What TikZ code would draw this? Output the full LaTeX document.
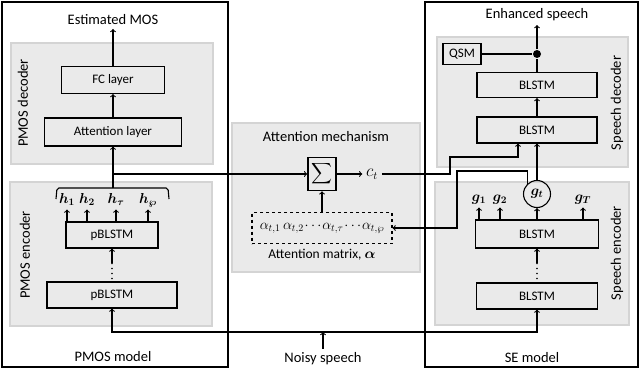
\documentclass[tikz,border=0pt]{standalone}
\usepackage{amsmath, amssymb}
\usepackage{fontspec}
\setmainfont{Carlito}
\usepackage{tikz}
\usetikzlibrary{shapes.geometric, arrows, positioning, calc}

\definecolor{panelfill}{RGB}{234,234,234}
\definecolor{paneledge}{RGB}{212,212,212}

\begin{document}
\begin{tikzpicture}[x=1pt, y=-1pt, >=to, line width=1.1pt,
    txt/.style={font=\fontsize{14.5}{17}\selectfont},
    layer/.style={draw, rectangle, minimum height=26pt, font=\fontsize{13}{15}\selectfont},
    panel/.style={fill=panelfill, draw=paneledge, line width=1.5pt},
    vec/.style={font=\fontsize{14.5}{17}\selectfont, text height=10pt, text depth=3pt, inner sep=2.5pt},
    dotgap/.style={inner sep=0pt, minimum width=4pt, minimum height=14pt},
    dotline/.style={line width=1.8pt, line cap=round, dash pattern=on 0pt off 5pt}]
    \useasboundingbox (0,0) rectangle (640,369);

    % model frames and grey panels
    \draw [line width=1.3pt] (2,2) rectangle (228,367);
    \draw [line width=1.3pt] (425,2) rectangle (638,367);
    \draw [panel] (11,43) rectangle (213,164);
    \draw [panel] (10,182) rectangle (212,326);
    \draw [panel] (232,123) rectangle (420,272);
    \draw [panel] (437,37) rectangle (628,167);
    \draw [panel] (435,182) rectangle (629,325);

    % PMOS model
    \node (mos) [txt] at (113,20) {Estimated MOS};
    \node (fc) [layer, minimum width=103pt, minimum height=27pt] at (113,80) {FC layer};
    \node (attn) [layer, below of=fc, node distance=52pt, minimum width=137pt, minimum height=28pt] {Attention layer};
    \node (pdec) [txt, rotate=90] at (23,103) {PMOS decoder};
    \node (penc) [txt, rotate=90] at (25,255) {PMOS encoder};
    \node (pblstm2) [layer, minimum width=92pt] at (112,235) {pBLSTM};
    \node (pblstm1) [layer, below of=pblstm2, node distance=60pt, minimum width=130pt] {pBLSTM};
    \node (pdots) [dotgap] at (112,271) {};
    \node (h1) [vec] at (67,200) {$\boldsymbol{h_1}$};
    \node (h2) [vec] at (87,200) {$\boldsymbol{h_2}$};
    \node (htau) [vec] at (116,200) {$\boldsymbol{h_\tau}$};
    \node (hwp) [vec] at (148,200) {$\boldsymbol{h_\wp}$};
    \node (pmodel) [txt] at (113,357) {PMOS model};
    \draw [rounded corners=2pt] (56,199) -- (57,188) -- (168,188) -- (169,199);
    \coordinate (hjoin) at (113,188);
    \coordinate (hsplit) at (113,174);

    \draw [->] (fc) -- (mos);
    \draw [->] (attn) -- (fc);
    \draw [->] (hjoin) -- (attn);
    \draw [dotline] (pdots.south) -- (pdots.north);
    \draw [->] (pdots) -- (pblstm2);
    \foreach \h in {h1, h2, htau, hwp}
        \draw [->] (\h |- pblstm2.north) -- (\h);

    % attention mechanism
    \node (amech) [txt] at (326,137) {Attention mechanism};
    \node (sigma) [draw, rectangle, line width=1.6pt, minimum width=28pt, minimum height=33pt, inner sep=0pt, font=\fontsize{14.5}{17}\selectfont] at (322,174) {$\displaystyle\sum$};
    \node (ct) [font=\fontsize{16}{18}\selectfont] at (372,174) {$c_t$};
    \node (alpha) [draw, dashed, rectangle, minimum width=140pt, minimum height=31pt, inner sep=0pt, font=\fontsize{14.5}{17}\selectfont] at (322,228) {$\alpha_{t,1}\,\alpha_{t,2}\mkern1mu{\cdots}\mkern1mu\alpha_{t,\tau}\mkern1mu{\cdots}\mkern1mu\alpha_{t,\wp}$};
    \node (amatrix) [font=\fontsize{13.5}{16}\selectfont] at (322,255) {Attention matrix, $\boldsymbol{\alpha}$};

    \draw [->] (hsplit) -- (sigma);
    \draw [->] (sigma) -- (ct);
    \draw [->] (alpha) -- (sigma);

    % SE model
    \node (enh) [txt] at (537,15) {Enhanced speech};
    \node (qsm) [draw, rectangle, minimum width=38pt, minimum height=21pt, font=\fontsize{13}{15}\selectfont] at (462,54) {QSM};
    \node (qdot) [circle, fill, inner sep=0pt, minimum size=8pt] at (537,54) {};
    \node (sdec2) [layer, minimum width=120pt, minimum height=25pt] at (537,85) {BLSTM};
    \node (sdec1) [layer, below of=sdec2, node distance=45pt, minimum width=120pt] {BLSTM};
    \node (sdeclab) [txt, rotate=90] at (617,103) {Speech decoder};
    \node (senclab) [txt, rotate=90] at (617,253) {Speech encoder};
    \node (g1) [vec] at (479,198) {$\boldsymbol{g_1}$};
    \node (g2) [vec] at (500,198) {$\boldsymbol{g_2}$};
    \node (gt) [draw, circle, minimum size=27pt, inner sep=0pt, font=\fontsize{14.5}{17}\selectfont] at (537,194) {$\boldsymbol{g_t}$};
    \node (gT) [vec] at (583,198) {$\boldsymbol{g_T}$};
    \node (sblstm2) [layer, minimum width=123pt, minimum height=28pt] at (537,234) {BLSTM};
    \node (sblstm1) [layer, below of=sblstm2, node distance=62pt, minimum width=121pt] {BLSTM};
    \node (sdots) [dotgap] at (537,271) {};
    \node (semodel) [txt] at (532,358) {SE model};
    \coordinate (ctbend) at (450,157);
    \coordinate (gtbend) at (457,171);

    \draw (qsm) -- (qdot);
    \draw (sdec2) -- (qdot);
    \draw [->] (qdot) -- (enh);
    \draw [->] (sdec1) -- (sdec2);
    \draw [->] (gt) -- (sdec1);
    \draw [dotline] (sdots.south) -- (sdots.north);
    \draw [->] (sdots) -- (sblstm2);
    \foreach \g in {g1, g2, gt, gT}
        \draw [->] (\g |- sblstm2.north) -- (\g);
    \draw [->] (ct.east) -| (ctbend) -| ([xshift=-19pt]sdec1.south);
    \draw [->] (gt.north west) |- (gtbend) |- (alpha.east);

    % noisy speech input
    \node (noisy) [txt] at (323,359) {Noisy speech};
    \coordinate (nsplit) at (323,332);
    \draw [->] (noisy) -- (nsplit);
    \draw [<->] (pblstm1) |- (nsplit) -| (sblstm1);
\end{tikzpicture}
\end{document}
